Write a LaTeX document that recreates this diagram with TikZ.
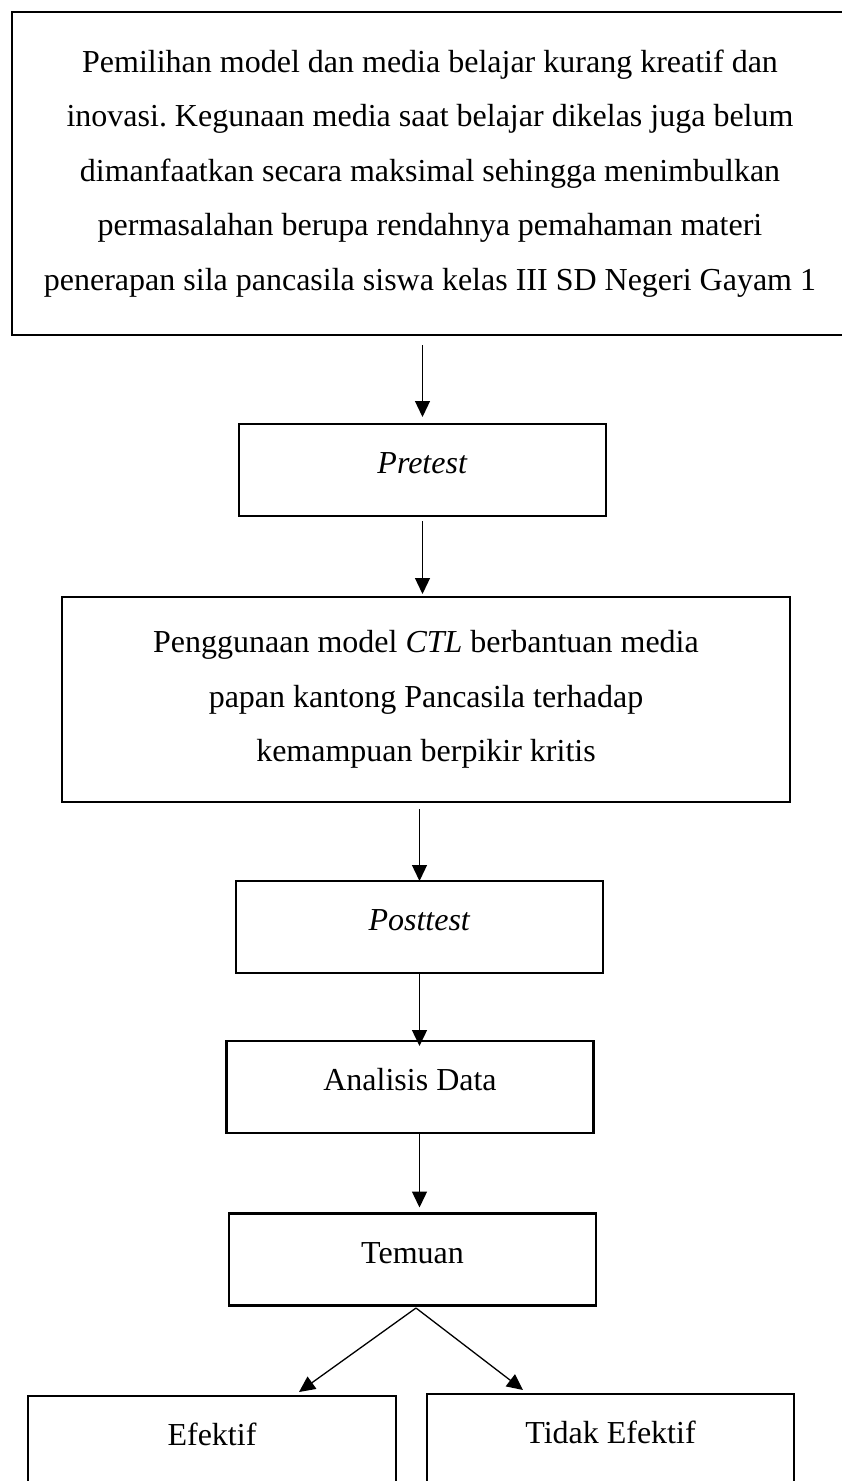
\documentclass[tikz,border=0pt]{standalone}
\usepackage{fontspec}
\setmainfont{Liberation Serif}
\usetikzlibrary{arrows.meta}
\frenchspacing

\begin{document}
\begin{tikzpicture}[x=1pt, y=-1pt, outer sep=0pt, font=\fontsize{32}{54.5}\selectfont]

\tikzstyle{place}=[draw, rectangle, line width=2.5pt, align=center, inner sep=0pt]
\tikzstyle{small}=[place, minimum width=367pt, minimum height=92pt, text height=22pt, text depth=15pt]
\tikzstyle{arrow}=[line width=1.3pt, -{Triangle[length=16pt, width=15pt]}]

\useasboundingbox (0,0) rectangle (842,1481);
\clip (0,0) rectangle (842,1481);

\node[place, minimum width=836pt, minimum height=323pt] (box1) at (430,173.5) {Pemilihan model dan media belajar kurang kreatif dan\\inovasi. Kegunaan media saat belajar dikelas juga belum\\dimanfaatkan secara maksimal sehingga menimbulkan\\permasalahan berupa rendahnya pemahaman materi\\penerapan sila pancasila siswa kelas III SD Negeri Gayam 1};
\node[small] (box2) at (422.5,470) {\textit{Pretest}};
\node[place, minimum width=728pt, minimum height=205pt] (box3) at (426,699.5) {Penggunaan model \textit{CTL} berbantuan media\\papan kantong Pancasila terhadap\\kemampuan berpikir kritis};
\node[small] (box4) at (419.5,927) {\textit{Posttest}};
\node[small] (box5) at (410,1087) {Analisis Data};
\node[small] (box6) at (412.5,1259.5) {Temuan};
\node[small, minimum width=368pt] (box7) at (212,1442) {Efektif};
\node[small] (box8) at (610.5,1440) {Tidak Efektif};

\coordinate (split) at (416,1308); \coordinate (left) at (299,1392); \coordinate (right) at (523,1390);

\draw[arrow, shorten <=10pt, shorten >=7pt] (box1.south -| box2.north) -- (box2.north);
\draw[arrow, shorten <=5pt, shorten >=3pt] (box2.south) -- (box2.south |- box3.north);
\draw[arrow, shorten <=7pt] (box3.south -| box4.north) -- (box4.north);
\draw[arrow, shorten >=-5pt] (box4.south) -- (box4.south |- box5.north);
\draw[arrow, shorten >=6pt] (box5.south -| box4.south) -- (box4.south |- box6.north);
\draw[arrow] (split) -- (left); \draw[arrow] (split) -- (right);

\end{tikzpicture}
\end{document}
